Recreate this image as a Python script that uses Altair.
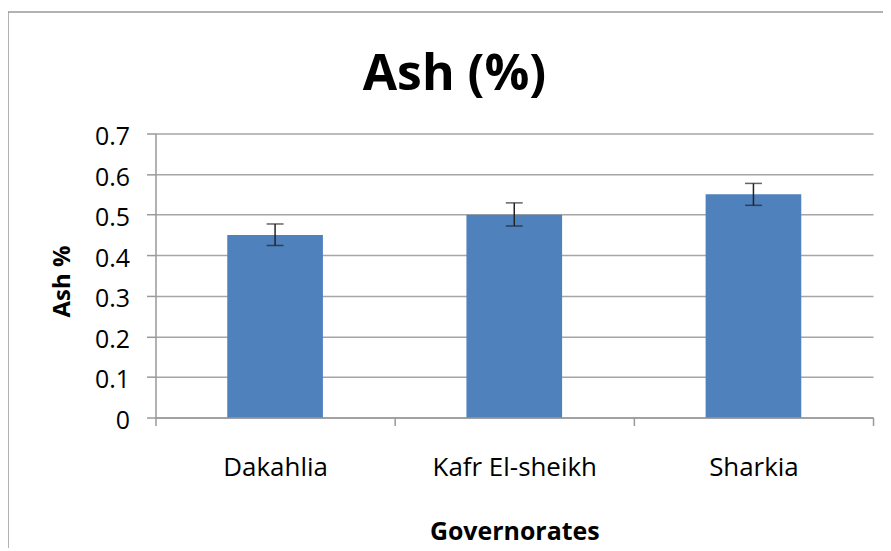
import altair as alt
import pandas as pd

categories = ["Dakahlia", "Kafr El-sheikh", "Sharkia"]
values = [0.45, 0.50, 0.55]
err_low = [0.424, 0.472, 0.523]
err_high = [0.477, 0.529, 0.577]

df = pd.DataFrame({"gov": categories, "ash": values, "lo": err_low, "hi": err_high})

FONT = "Open Sans"
W, H = 720, 285

xscale = alt.Scale(paddingInner=0, paddingOuter=0)
xenc = alt.X("gov:N", sort=categories, scale=xscale,
             axis=alt.Axis(title="Governorates", labelAngle=0, labelFontSize=26,
                           labelFont=FONT, labelColor="#000", labelPadding=50,
                           labelBaseline="alphabetic",
                           ticks=True, tickExtra=True, tickBand="extent", tickSize=8,
                           tickColor="#999", tickWidth=1.5,
                           domainColor="#999", domainWidth=1.5, titleFont=FONT, titleFontSize=25,
                           titleFontWeight="bold", titleColor="#000",
                           titleX=360, titleY=122, titleBaseline="alphabetic",
                           titleAlign="center", grid=False))

bars = alt.Chart(df).mark_bar(color="#4F81BD", width={"band": 0.4}).encode(
    x=xenc,
    y=alt.Y("ash:Q", scale=alt.Scale(domain=[0, 0.7]),
            axis=alt.Axis(title="Ash %", values=[0, 0.1, 0.2, 0.3, 0.4, 0.5, 0.6, 0.7],
                          format=".1~f", labelFontSize=25, labelFont=FONT, labelColor="#000",
                          labelPadding=17, labelOffset=3, tickSize=9, tickColor="#999",
                          tickWidth=1.5, domainColor="#999", domainWidth=1.5,
                          gridColor="#A6A6A6", gridWidth=1.5, grid=True,
                          titleFont=FONT, titleFontSize=24, titleFontWeight="bold",
                          titleColor="#000", titleX=-86, titleY=148, titleAngle=-90,
                          titleBaseline="alphabetic", titleAlign="center")),
)

rules = alt.Chart(df).mark_rule(color="#222", strokeWidth=1.5).encode(
    x=alt.X("gov:N", sort=categories), y="lo:Q", y2="hi:Q")
cap_lo = alt.Chart(df).mark_tick(color="#222", thickness=1.5, size=17, orient="horizontal").encode(
    x=alt.X("gov:N", sort=categories), y="lo:Q")
cap_hi = alt.Chart(df).mark_tick(color="#222", thickness=1.5, size=17, orient="horizontal").encode(
    x=alt.X("gov:N", sort=categories), y="hi:Q")

title_df = pd.DataFrame({"t": ["Ash (%)"]})
title = alt.Chart(title_df).mark_text(font=FONT, fontSize=50, fontWeight="bold",
                                      color="#000", baseline="middle", align="center").encode(
    text="t:N", x=alt.value(300), y=alt.value(-59))

frame = alt.Chart(title_df).mark_rect(fill=None, stroke="#999", strokeWidth=1.5).encode(
    x=alt.value(-148), x2=alt.value(W + 300), y=alt.value(-122), y2=alt.value(H + 300))

chart = alt.layer(frame, bars, rules, cap_lo, cap_hi, title).properties(
    width=W, height=H,
    autosize=alt.AutoSizeParams(type="none"),
    padding={"left": 148, "top": 125, "right": 10, "bottom": 130},
    background="white",
).configure_view(stroke=None)

chart.save("out.html", embed_options={"renderer": "svg", "actions": False})
